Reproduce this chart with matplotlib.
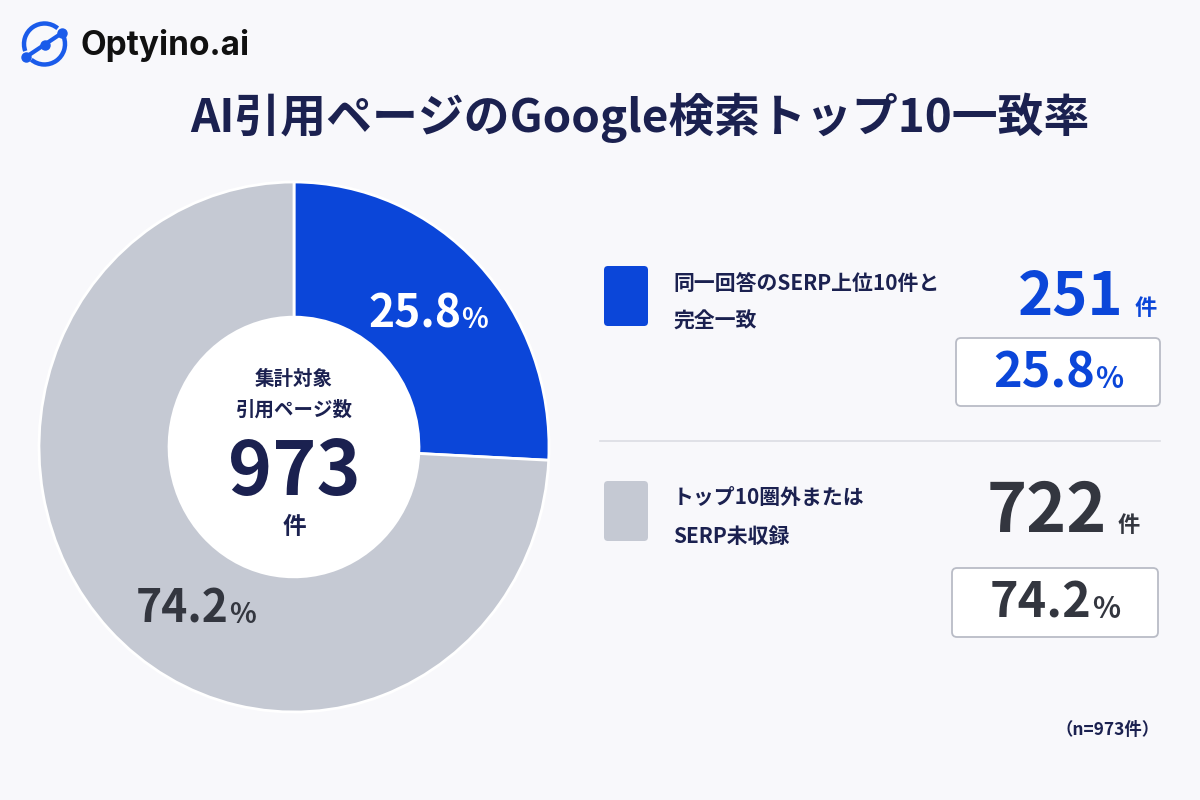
import matplotlib
matplotlib.use('Agg')
import numpy as np
import matplotlib.pyplot as plt
from matplotlib.patches import FancyBboxPatch, Circle, Arc
from matplotlib.offsetbox import TextArea, HPacker, AnnotationBbox

plt.rcParams['font.family'] = ['Noto Sans CJK JP', 'DejaVu Sans']

# data
categories = ['同一回答のSERP上位10件と\n完全一致', 'トップ10圏外または\nSERP未収録']
counts = [251, 722]
shares = [25.8, 74.2]
total = 973
title = 'AI引用ページのGoogle検索トップ10一致率'

blue = '#0B46D9'
gray = '#C5C9D3'
navy = '#1B2150'
dark = '#33363F'
bg = '#F8F8FB'
colors = [blue, gray]
num_colors = [blue, dark]

fig = plt.figure(figsize=(12, 8), dpi=100, facecolor=bg)

# donut (slightly taller than wide, like the reference)
ax = fig.add_axes([0.0325, 0.11, 0.425, 0.6625])
ax.set_facecolor('none')
wedges, _ = ax.pie(counts, colors=colors, startangle=90, counterclock=False,
                   radius=1, wedgeprops=dict(width=0.51, edgecolor='white', linewidth=2))
ax.add_patch(Circle((0, 0), 0.49, facecolor='white', edgecolor='none', zorder=3))
ax.set_xlim(-1, 1)
ax.set_ylim(-1, 1)
ax.set_aspect('auto')
ax.axis('off')

label_angles = [(wedges[0].theta1 + wedges[0].theta2) / 2, -122]
label_r = [0.725, 0.725]
label_col = ['white', dark]
for ang, r, s, c in zip(label_angles, label_r, shares, label_col):
    a = np.radians(ang)
    pk = HPacker(children=[TextArea(f'{s:.1f}', textprops=dict(color=c, fontsize=32, fontweight='bold')),
                           TextArea('%', textprops=dict(color=c, fontsize=20, fontweight='bold'))],
                 align='baseline', pad=0, sep=0)
    ab = AnnotationBbox(pk, (r * np.cos(a), r * np.sin(a)), frameon=False, box_alignment=(0.5, 0.5), zorder=5)
    ax.add_artist(ab)

ax.text(0, 0.253, '集計対象', ha='center', va='center', fontsize=14, fontweight='bold', color=navy, zorder=5)
ax.text(0, 0.14, '引用ページ数', ha='center', va='center', fontsize=14, fontweight='bold', color=navy, zorder=5)
ax.text(0, -0.10, f'{total}', ha='center', va='center', fontsize=54, fontweight='bold', color=navy, zorder=5)
ax.text(0, -0.30, '件', ha='center', va='center', fontsize=17, fontweight='bold', color=navy, zorder=5)

# overlay in pixel units
ov = fig.add_axes([0, 0, 1, 1])
ov.set_xlim(0, 1200)
ov.set_ylim(800, 0)
ov.axis('off')
ov.patch.set_visible(False)

# logo
lc = '#1A5BEA'
ov.add_patch(Arc((44.5, 44), 41, 41, theta1=-200, theta2=-50, color=lc, lw=3.2))
ov.add_patch(Arc((44.5, 44), 41, 41, theta1=-20, theta2=130, color=lc, lw=3.2))
ov.plot([26, 62], [57, 33], color=lc, lw=3)
ov.plot([26, 44.5, 62], [57, 45, 33], 'o', color=lc, ms=6.5)
ov.text(80, 46, 'Optyino.ai', ha='left', va='center', fontsize=24, fontweight='bold',
        color='#111111', family=['Inter', 'DejaVu Sans'])

ov.text(640, 118, title, ha='center', va='center', fontsize=33, fontweight='bold', color=navy)

# legend rows
rows_y = [296, 511]
num_right = [1157, 1140]
box_x = [(956, 1160), (952, 1158)]
box_y = [(338, 406), (568, 637)]
for i, (cat, n, s) in enumerate(zip(categories, counts, shares)):
    y = rows_y[i]
    ov.add_patch(FancyBboxPatch((604, y - 30), 44, 60, boxstyle='round,pad=0,rounding_size=4',
                                facecolor=colors[i], edgecolor='none'))
    l1, l2 = cat.split('\n')
    ov.text(673, y - 13, l1, ha='left', va='center', fontsize=15, fontweight='bold', color=navy)
    ov.text(673, y + 25, l2, ha='left', va='center', fontsize=15, fontweight='bold', color=navy)

    pk = HPacker(children=[TextArea(f'{n}', textprops=dict(color=num_colors[i], fontsize=43 if i == 0 else 49, fontweight='bold')),
                           TextArea('件', textprops=dict(color=num_colors[i], fontsize=16, fontweight='bold'))],
                 align='baseline', pad=0, sep=8)
    ov.add_artist(AnnotationBbox(pk, (num_right[i], y + 2), frameon=False, box_alignment=(1, 0.5)))

    x0, x1 = box_x[i]
    y0, y1 = box_y[i]
    ov.add_patch(FancyBboxPatch((x0, y0), x1 - x0, y1 - y0, boxstyle='round,pad=0,rounding_size=5',
                                facecolor='white', edgecolor='#B9BCC6', linewidth=1.3))
    pk = HPacker(children=[TextArea(f'{s:.1f}', textprops=dict(color=num_colors[i], fontsize=35, fontweight='bold')),
                           TextArea('%', textprops=dict(color=num_colors[i], fontsize=21, fontweight='bold'))],
                 align='baseline', pad=0, sep=0)
    ov.add_artist(AnnotationBbox(pk, ((x0 + x1) / 2, (y0 + y1) / 2 + 1), frameon=False, box_alignment=(0.5, 0.5)))

ov.plot([600, 1160], [441, 441], color='#DCDDE3', lw=1.2)

ov.text(1160, 730, f'（n={total}件）', ha='right', va='center', fontsize=12.5, fontweight='bold', color=navy)

fig.savefig('out.png', dpi=100, facecolor=bg)
